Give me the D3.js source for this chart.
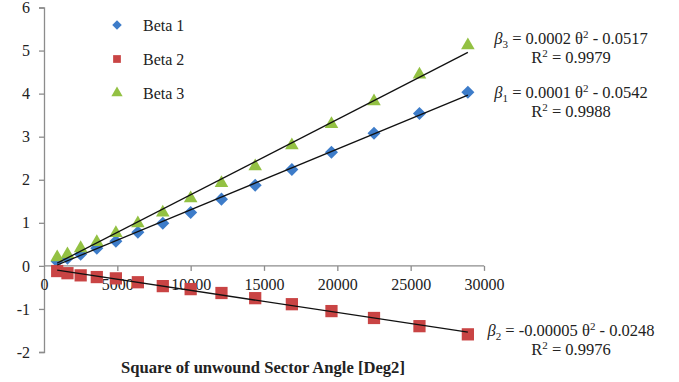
<!DOCTYPE html>
<html>
<head>
<meta charset="utf-8">
<script src="https://cdn.jsdelivr.net/npm/d3@7"></script>
<style>
  html, body { margin: 0; padding: 0; background: #fff; }
  svg { display: block; }
  text { font-family: "Liberation Serif", "Times New Roman", serif; fill: #222; }
</style>
</head>
<body>
<svg id="chart" width="679" height="382"></svg>
<script>
// ---- data ----
const thetaSq = [900, 1600, 2500, 3600, 4900, 6400, 8100, 10000, 12100, 14400, 16900, 19600, 22500, 25600, 28900];
const beta1 = [0.10, 0.18, 0.27, 0.41, 0.57, 0.78, 0.99, 1.24, 1.55, 1.87, 2.24, 2.64, 3.08, 3.54, 4.03];
const beta2 = [-0.12, -0.17, -0.22, -0.26, -0.29, -0.38, -0.47, -0.54, -0.63, -0.75, -0.89, -1.05, -1.21, -1.40, -1.59];
const beta3 = [0.20, 0.27, 0.41, 0.55, 0.76, 0.99, 1.24, 1.57, 1.92, 2.31, 2.80, 3.29, 3.82, 4.44, 5.12];
const seriesNames = ["Beta 1", "Beta 2", "Beta 3"];
const xTicks = [0, 5000, 10000, 15000, 20000, 25000, 30000];
const yTicks = [-2, -1, 0, 1, 2, 3, 4, 5, 6];
const eqLabels = [
  { sub: "1", eq: " = 0.0001 θ", tail: " - 0.0542", r2: " = 0.9988" },
  { sub: "2", eq: " = -0.00005 θ", tail: " - 0.0248", r2: " = 0.9976" },
  { sub: "3", eq: " = 0.0002 θ", tail: " - 0.0517", r2: " = 0.9979" }
];
const xTitle = "Square of unwound Sector Angle [Deg2]";

// ---- layout ----
const svg = d3.select("#chart");
const x = d3.scaleLinear().domain([0, 30000]).range([44, 484]);
const y = d3.scaleLinear().domain([-2, 6]).range([352, 7.5]);
const axisColor = "#8c8c8c";
const colors = ["#3d7cc9", "#c94444", "#93c143"];

// y axis
const yAxis = svg.append("g").attr("transform", `translate(${x(0)},0)`)
  .call(d3.axisLeft(y).tickValues(yTicks).tickSize(5).tickPadding(9).tickFormat(d => String(d)));
// x axis at y=0
const xAxis = svg.append("g").attr("transform", `translate(0,${y(0)})`)
  .call(d3.axisBottom(x).tickValues(xTicks).tickSize(5).tickPadding(8).tickFormat(d => String(d)));
[yAxis, xAxis].forEach(g => {
  g.selectAll("path.domain").attr("stroke", axisColor).attr("stroke-width", 1.3);
  g.selectAll(".tick line").attr("stroke", axisColor).attr("stroke-width", 1.3);
  g.selectAll(".tick text").style("font-family", "'Liberation Serif', serif").style("font-size", "16px").attr("fill", "#333");
});
xAxis.select("path.domain").attr("d", `M${x(0)},0H${x(30000)}`);
xAxis.selectAll(".tick").filter(d => d === 0).select("line").remove();

// markers
const sym = [d3.symbolSquare, d3.symbolSquare, d3.symbolTriangle];
const rot = [45, 0, 0];
const sizes = [85, 150, 80];
const allSeries = [beta1, beta2, beta3];
allSeries.forEach((vals, i) => {
  svg.append("g").selectAll("path").data(vals).join("path")
    .attr("d", d3.symbol(sym[i], sizes[i]))
    .attr("transform", (d, j) => `translate(${x(thetaSq[j])},${y(d)}) rotate(${rot[i]})`)
    .attr("fill", colors[i]);
});

// linear trendlines (least squares from data)
function fit(xs, ys) {
  const n = xs.length, mx = d3.mean(xs), my = d3.mean(ys);
  let sxy = 0, sxx = 0;
  for (let k = 0; k < n; k++) { sxy += (xs[k]-mx)*(ys[k]-my); sxx += (xs[k]-mx)**2; }
  const m = sxy / sxx; return { m, b: my - m*mx };
}
const line = d3.line().x(d => x(d[0])).y(d => y(d[1]));
allSeries.forEach(vals => {
  const f = fit(thetaSq, vals);
  const x0 = thetaSq[0], x1 = thetaSq[thetaSq.length-1];
  svg.append("path").attr("d", line([[x0, f.m*x0+f.b], [x1, f.m*x1+f.b]]))
    .attr("stroke", "#111").attr("stroke-width", 1.3).attr("fill", "none");
});

// legend
const leg = svg.append("g");
const legSizes = [45, 60, 55];
seriesNames.forEach((name, i) => {
  const yy = 25 + i * 34;
  leg.append("path").attr("d", d3.symbol(sym[i], legSizes[i]))
    .attr("transform", `translate(117,${yy}) rotate(${rot[i]})`).attr("fill", colors[i]);
  leg.append("text").attr("x", 143).attr("y", yy).attr("dy", "0.35em")
    .style("font-size", "16px").text(name);
});

// equation labels
const eqPos = [{ cy: 92 }, { cy: 330 }, { cy: 38 }];
eqLabels.forEach((e, i) => {
  const cx = 571, cy = eqPos[i].cy;
  const t = svg.append("text").attr("x", cx).attr("y", cy).attr("dy", "0.35em")
    .attr("text-anchor", "middle").style("font-size", "16.5px");
  t.append("tspan").style("font-style", "italic").text("β");
  t.append("tspan").attr("dy", "4").style("font-size", "11px").text(e.sub);
  t.append("tspan").attr("dy", "-4").text(e.eq);
  t.append("tspan").attr("dy", "-6").style("font-size", "11px").text("2");
  t.append("tspan").attr("dy", "6").text(e.tail);
  const r = svg.append("text").attr("x", cx).attr("y", cy + 19).attr("dy", "0.35em")
    .attr("text-anchor", "middle").style("font-size", "16.5px");
  r.append("tspan").text("R");
  r.append("tspan").attr("dy", "-6").style("font-size", "11px").text("2");
  r.append("tspan").attr("dy", "6").text(e.r2);
});

// x axis title
svg.append("text").attr("x", 263).attr("y", 373)
  .attr("text-anchor", "middle").style("font-size", "16.6px").style("font-weight", "bold")
  .text(xTitle);
</script>
</body>
</html>
